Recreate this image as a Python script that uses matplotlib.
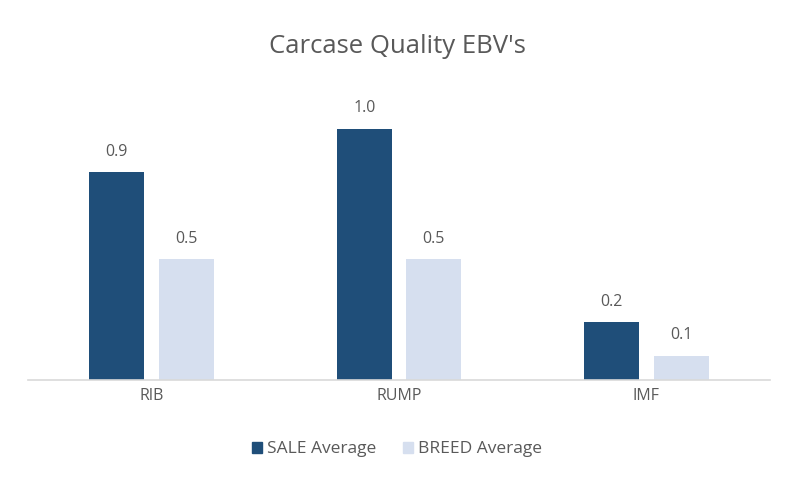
import numpy as np
import matplotlib.pyplot as plt
from matplotlib.patches import Patch

# === DATOS ===
categories = ['RIB', 'RUMP', 'IMF']
sale_avg = [0.86, 1.04, 0.24]
breed_avg = [0.50, 0.50, 0.10]

# === ESTILO ===
SALE_COLOR = '#1F4E79'
BREED_COLOR = '#D6DFEF'
TEXT_COLOR = '#595959'
plt.rcParams['font.family'] = ['Open Sans', 'DejaVu Sans']

fig = plt.figure(figsize=(7.94, 4.78), dpi=100)
ax = fig.add_axes([0.035, 0.205, 0.935, 0.586])

x = np.arange(len(categories))
w = 0.223
off = 0.14
b1 = ax.bar(x - off, sale_avg, w, color=SALE_COLOR, label='SALE Average')
b2 = ax.bar(x + off, breed_avg, w, color=BREED_COLOR, label='BREED Average')

for bars in (b1, b2):
    for b in bars:
        ax.annotate(f"{b.get_height():.1f}", (b.get_x() + b.get_width() / 2, b.get_height()),
                    xytext=(0, 9), textcoords='offset points', ha='center', va='bottom',
                    fontsize=11.5, color=TEXT_COLOR)

ax.set_xlim(-0.5, 2.5)
ax.set_ylim(0, 1.16)
ax.set_xticks(x)
ax.set_xticklabels(categories, fontsize=11.5, color=TEXT_COLOR)
ax.tick_params(axis='x', length=0, pad=6)
ax.set_yticks([])
for s in ['top', 'right', 'left']:
    ax.spines[s].set_visible(False)
ax.spines['bottom'].set_color('#D9D9D9')
ax.spines['bottom'].set_linewidth(1.2)

fig.text(0.5, 0.903, "Carcase Quality EBV's", ha='center', va='center',
         fontsize=18.5, color=TEXT_COLOR)

handles = [Patch(color=SALE_COLOR), Patch(color=BREED_COLOR)]
fig.legend(handles, ['SALE Average', 'BREED Average'], loc='center',
           bbox_to_anchor=(0.5, 0.06), ncol=2, frameon=False, fontsize=12.5,
           handlelength=0.6, handleheight=0.6, handletextpad=0.3, columnspacing=1.5,
           labelcolor=TEXT_COLOR)

fig.savefig('out.png', dpi=100, facecolor='white')
